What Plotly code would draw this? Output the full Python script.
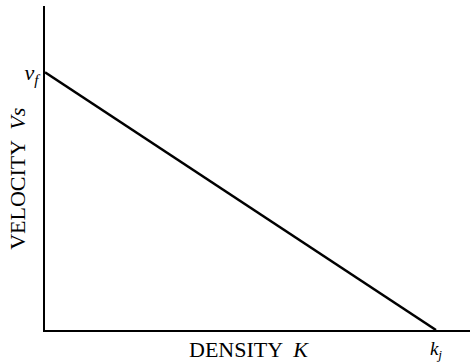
import plotly.graph_objects as go

# Greenshields linear speed-density relation (normalised units)
free_flow_speed = 1.0   # v_f
jam_density = 1.0       # k_j
density = [0.0, jam_density]
velocity = [free_flow_speed, 0.0]

x_tick_vals = [jam_density]
x_tick_text = ["<i>k<sub>j</sub></i>"]
y_tick_vals = [free_flow_speed]
y_tick_text = ["<i>v<sub>f</sub></i>"]

x_title = "DENSITY  <i>K</i>"
y_title = "VELOCITY  <i>Vs</i>"

serif = "Liberation Serif, Times New Roman, serif"

fig = go.Figure()
fig.add_trace(go.Scatter(
    x=density, y=velocity, mode="lines",
    line=dict(color="black", width=2.5),
    showlegend=False, hoverinfo="skip",
))

fig.update_layout(
    width=472, height=364,
    margin=dict(l=45, r=2, t=6, b=30),
    paper_bgcolor="white", plot_bgcolor="white",
    font=dict(family=serif, size=20, color="black"),
    xaxis=dict(
        range=[0, 1.087], showgrid=False, zeroline=False,
        showline=True, linecolor="black", linewidth=2,
        ticks="", tickvals=x_tick_vals, ticktext=x_tick_text,
        tickfont=dict(size=19),
    ),
    yaxis=dict(
        range=[0, 1.2567], showgrid=False, zeroline=False,
        showline=True, linecolor="black", linewidth=2,
        ticks="", tickvals=y_tick_vals, ticktext=y_tick_text,
        tickfont=dict(size=22),
    ),
    annotations=[
        dict(text=x_title, xref="paper", yref="paper",
             x=(249 - 45) / 425, y=0, yshift=-5, yanchor="top",
             showarrow=False, font=dict(size=22)),
        dict(text=y_title, xref="paper", yref="paper",
             x=0, xshift=-27, xanchor="center",
             y=(334 - 181) / 328, yanchor="middle", textangle=-90,
             showarrow=False, font=dict(size=22)),
    ],
)

fig.write_html("out.html")
